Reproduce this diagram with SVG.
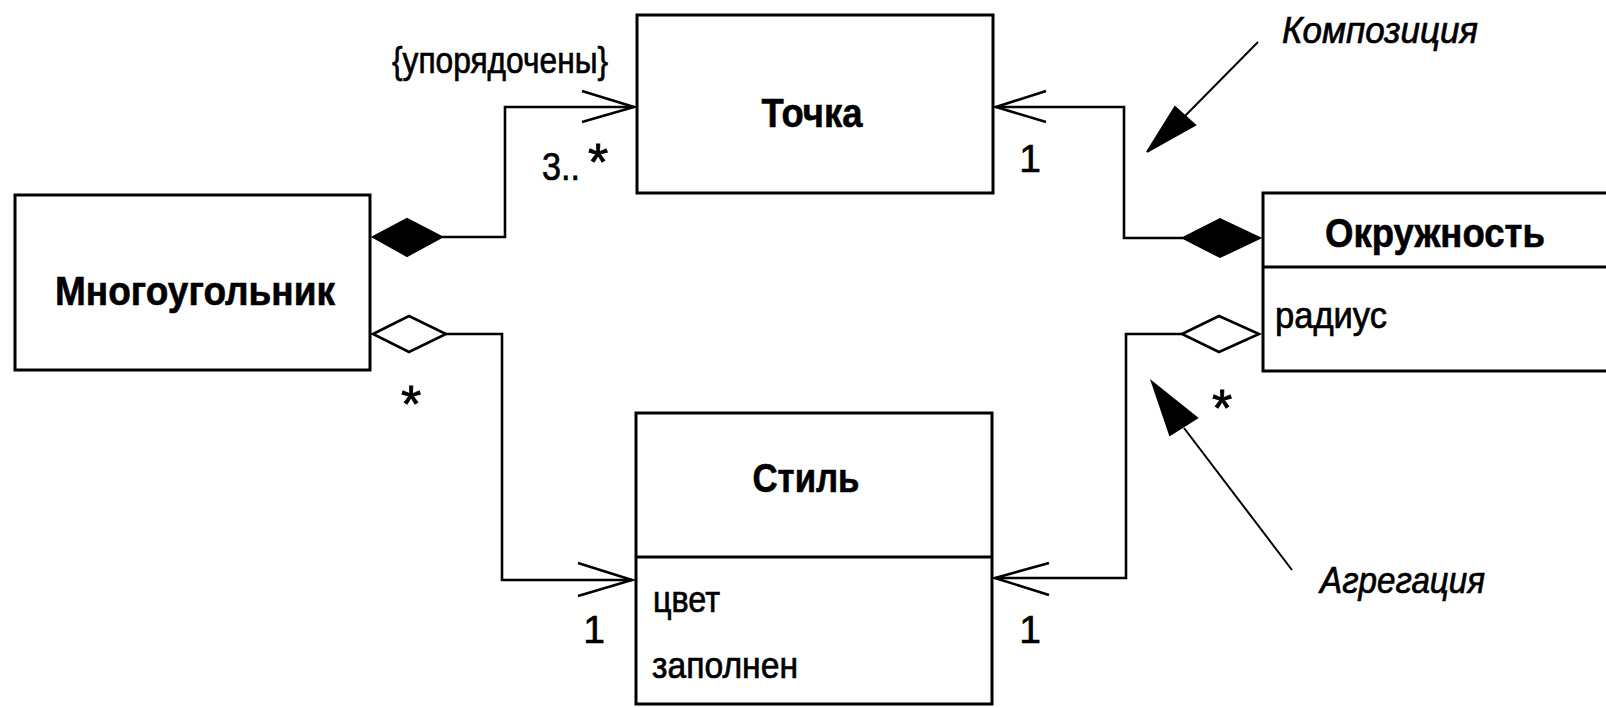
<svg xmlns="http://www.w3.org/2000/svg" width="1606" height="708" viewBox="0 0 1606 708">
<style>
.box{fill:#fff;stroke:#000;stroke-width:3}
.div{stroke:#000;stroke-width:3}
.ln{fill:none;stroke:#000;stroke-width:2.6}
.arr{fill:none;stroke:#000;stroke-width:2.6;stroke-linejoin:miter}
.fd{fill:#000;stroke:#000;stroke-width:2}
.od{fill:#fff;stroke:#000;stroke-width:2.6}
.nl{stroke:#000;stroke-width:2}
.title{font-family:"Liberation Sans",Arial,sans-serif;font-weight:bold;font-size:41px;text-anchor:middle;stroke:#000;stroke-width:0.6}
.attr{font-family:"Liberation Sans",Arial,sans-serif;font-size:37px;stroke:#000;stroke-width:0.7}
.num{font-family:"Liberation Sans",Arial,sans-serif;font-size:39px;stroke:#000;stroke-width:0.7}
.star{font-family:"Liberation Sans",Arial,sans-serif;font-size:52px;text-anchor:middle;stroke:#000;stroke-width:0.8}
.note{font-family:"Liberation Sans",Arial,sans-serif;font-style:italic;font-size:37px;stroke:#000;stroke-width:0.7}
</style>
<rect width="1606" height="708" fill="#fff"/>
<g id="connectors">
  <path class="ln" d="M442,237 H505 V107 H634"/>
  <polyline class="arr" points="582,91 634,107 582,122"/>
  <polygon class="fd" points="373,237 407,219 442,237 407,256"/>
  <path class="ln" d="M446,334 H502 V580 H632"/>
  <polyline class="arr" points="578,563 632,580 578,596"/>
  <polygon class="od" points="373,334 409,316 446,334 409,352"/>
  <path class="ln" d="M1183,238 H1124 V107 H996"/>
  <polyline class="arr" points="1046,91 996,107 1046,122"/>
  <polygon class="fd" points="1183,238 1220,219 1260,238 1220,257"/>
  <path class="ln" d="M1182,334 H1126 V578 H995"/>
  <polyline class="arr" points="1049,563 995,578 1049,595"/>
  <polygon class="od" points="1182,334 1219,316 1259,334 1219,352"/>
  <text class="attr" x="392" y="73" font-size="42" textLength="216" lengthAdjust="spacingAndGlyphs">{упорядочены}</text>
  <text class="num" x="542" y="180" textLength="38" lengthAdjust="spacingAndGlyphs">3..</text>
  <text class="star" x="598" y="180">*</text>
  <text class="num" x="1030" y="172" text-anchor="middle">1</text>
  <text class="star" x="411" y="422">*</text>
  <text class="num" x="594" y="643" text-anchor="middle">1</text>
  <text class="num" x="1030" y="643" text-anchor="middle">1</text>
  <text class="star" x="1222" y="426">*</text>
</g>
<g id="Mnogougolnik">
  <rect class="box" x="15" y="195" width="355" height="175"/>
  <text class="title" x="195" y="305" textLength="280" lengthAdjust="spacingAndGlyphs">Многоугольник</text>
</g>
<g id="Tochka">
  <rect class="box" x="637" y="15" width="356" height="178"/>
  <text class="title" x="812" y="127" textLength="101" lengthAdjust="spacingAndGlyphs">Точка</text>
</g>
<g id="Okruzhnost">
  <rect class="box" x="1263" y="193" width="360" height="178"/>
  <line class="div" x1="1263" y1="267" x2="1623" y2="267"/>
  <text class="title" x="1435" y="247" textLength="220" lengthAdjust="spacingAndGlyphs">Окружность</text>
  <text class="attr" x="1275" y="328" textLength="112" lengthAdjust="spacingAndGlyphs">радиус</text>
</g>
<g id="Stil">
  <rect class="box" x="636" y="413" width="356" height="291"/>
  <line class="div" x1="636" y1="557" x2="992" y2="557"/>
  <text class="title" x="806" y="492" textLength="107" lengthAdjust="spacingAndGlyphs">Стиль</text>
  <text class="attr" x="653" y="612" textLength="67" lengthAdjust="spacingAndGlyphs">цвет</text>
  <text class="attr" x="652" y="678" textLength="146" lengthAdjust="spacingAndGlyphs">заполнен</text>
</g>
<g id="note-composition">
  <line class="nl" x1="1258" y1="42" x2="1183" y2="118"/>
  <polygon class="fd" points="1147,152 1175,107 1195,125"/>
  <text class="note" x="1282" y="43" textLength="196" lengthAdjust="spacingAndGlyphs">Композиция</text>
</g>
<g id="note-aggregation">
  <line class="nl" x1="1292" y1="570" x2="1184" y2="428"/>
  <polygon class="fd" points="1152,382 1170,435 1197,418"/>
  <text class="note" x="1320" y="593" textLength="165" lengthAdjust="spacingAndGlyphs">Агрегация</text>
</g>
</svg>
